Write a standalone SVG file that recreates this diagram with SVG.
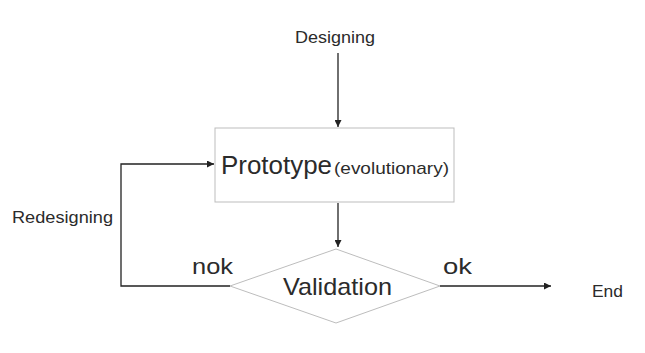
<svg xmlns="http://www.w3.org/2000/svg" width="645" height="353" viewBox="0 0 645 353">
  <style>
    text { font-family: "Liberation Sans", Arial, sans-serif; fill: #2b2b2b; }
    .shape { fill: #fff; stroke: #bdbdbd; stroke-width: 1; }
    .link { fill: none; stroke: #222; stroke-width: 1.3; }
  </style>
  <defs>
    <marker id="arrow" viewBox="0 0 10 10" refX="10" refY="5" markerWidth="7" markerHeight="7" markerUnits="userSpaceOnUse" orient="auto">
      <path d="M0,0 L10,5 L0,10 z" fill="#222"/>
    </marker>
  </defs>
  <rect width="645" height="353" fill="#fff"/>

  <g id="connectors">
    <path class="link" d="M338,53 V127" marker-end="url(#arrow)"/>
    <path class="link" d="M338,203 V247" marker-end="url(#arrow)"/>
    <path class="link" d="M440,286 H551" marker-end="url(#arrow)"/>
    <path class="link" d="M230,286 H121 V164 H214" marker-end="url(#arrow)"/>
    <text x="295" y="43" font-size="17" textLength="80" lengthAdjust="spacingAndGlyphs">Designing</text>
    <text x="12" y="223" font-size="17" textLength="101" lengthAdjust="spacingAndGlyphs">Redesigning</text>
    <text x="192" y="274" font-size="22" textLength="41" lengthAdjust="spacingAndGlyphs">nok</text>
    <text x="443" y="274" font-size="22" textLength="29" lengthAdjust="spacingAndGlyphs">ok</text>
  </g>

  <g id="prototype">
    <rect class="shape" x="215" y="128" width="239" height="74"/>
    <text x="221" y="174" font-size="26" textLength="111" lengthAdjust="spacingAndGlyphs">Prototype</text>
    <text x="334" y="174" font-size="17" textLength="115" lengthAdjust="spacingAndGlyphs">(evolutionary)</text>
  </g>

  <g id="validation">
    <polygon class="shape" points="336,249 440,286 336,323 230,286"/>
    <text x="283" y="295" font-size="24" textLength="109" lengthAdjust="spacingAndGlyphs">Validation</text>
  </g>

  <g id="end">
    <text x="592" y="297" font-size="17" textLength="31" lengthAdjust="spacingAndGlyphs">End</text>
  </g>
</svg>
